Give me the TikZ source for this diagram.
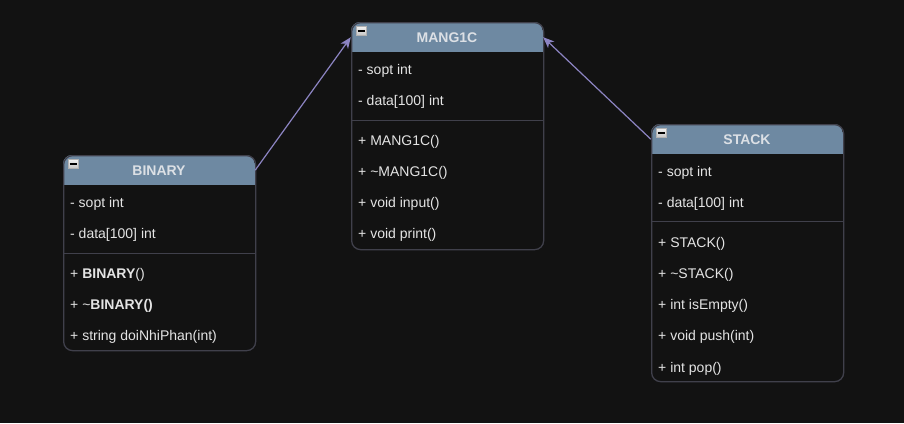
\documentclass[tikz,border=0pt]{standalone}
\usepackage{fontspec}
\setmainfont{Liberation Sans}
\usetikzlibrary{arrows.meta, calc, positioning}
\definecolor{bgDark}{HTML}{121212}
\definecolor{hdrBlue}{HTML}{6E89A2}
\definecolor{edgeGrey}{HTML}{40404B}
\definecolor{txtLight}{HTML}{E4E4E4}
\definecolor{hdrTxt}{HTML}{DCE0E5}
\definecolor{linkLav}{HTML}{8C84C2}
\tikzset{
  % one unit = one pixel of the screen shot, y grows downwards
  every picture/.append style = {x=1pt, y=-1pt},
  classbox/.style  = {draw=edgeGrey, line width=1.3pt, rounded corners=9pt,
                      minimum width=192pt, anchor=north west, inner sep=0pt},
  hdrtitle/.style  = {font=\bfseries\fontsize{14}{17}\selectfont, text=hdrTxt,
                      minimum width=192pt, minimum height=30pt, anchor=north,
                      inner sep=0pt, text height=10pt, text depth=0pt},
  member/.style    = {font=\fontsize{14}{17}\selectfont, text=txtLight, anchor=west,
                      inner sep=0pt, text height=10pt, text depth=0pt},
  sepline/.style   = {edgeGrey, line width=1pt},
  minusicon/.style = {top color=gray!10, bottom color=gray!45, draw=gray!60,
                      line width=0.4pt, minimum width=10pt, minimum height=9pt,
                      inner sep=0pt, anchor=north west,
                      path picture={\draw[black, line width=1.6pt]
                        ([xshift=1.5pt]path picture bounding box.west) --
                        ([xshift=-1.5pt]path picture bounding box.east);}},
  inherit/.style   = {-{Stealth[length=11pt, width=9pt, inset=3pt]}, linkLav, line width=1.2pt},
}
\begin{document}
\begin{tikzpicture}
  % dark canvas
  \fill[bgDark] (0,0) rectangle (904,423);

  % MANG1C, the base class
  \begin{scope}
    \clip[rounded corners=9pt] (351,22) rectangle (543,249);
    \fill[hdrBlue] (351,22) rectangle (543,52);
  \end{scope}
  \node[classbox, minimum height=227pt] (mang-box) at (351,22) {};
  \node[minusicon] (mang-icon) at (356,26) {};
  \node[hdrtitle] (mang) at (447,22) {MANG1C};
  \foreach \txt [count=\i] in {- sopt int, - data[100] int}
    \node[member] (mang-a\i) at (358,{22+47+31.25*(\i-1)}) {\txt};
  \draw[sepline] (351,120) -- (543,120);
  \foreach \txt [count=\i] in {+ MANG1C(), + \textasciitilde MANG1C(), + void input(), + void print()}
    \node[member] (mang-m\i) at (358,{22+118+31.25*(\i-1)}) {\txt};

  % BINARY
  \begin{scope}
    \clip[rounded corners=9pt] (63,155) rectangle (255,350);
    \fill[hdrBlue] (63,155) rectangle (255,185);
  \end{scope}
  \node[classbox, minimum height=195pt] (binary-box) at (63,155) {};
  \node[minusicon] (binary-icon) at (68,159) {};
  \node[hdrtitle] (binary) at (159,155) {BINARY};
  \foreach \txt [count=\i] in {- sopt int, - data[100] int}
    \node[member] (binary-a\i) at (70,{155+47+31.25*(\i-1)}) {\txt};
  \draw[sepline] (63,253) -- (255,253);
  \foreach \txt [count=\i] in {+ \textbf{BINARY}(), + \textasciitilde\textbf{BINARY()}, + string doiNhiPhan(int)}
    \node[member] (binary-m\i) at (70,{155+118+31.25*(\i-1)}) {\txt};

  % STACK
  \begin{scope}
    \clip[rounded corners=9pt] (651,124) rectangle (843,381);
    \fill[hdrBlue] (651,124) rectangle (843,154);
  \end{scope}
  \node[classbox, minimum height=257pt] (stack-box) at (651,124) {};
  \node[minusicon] (stack-icon) at (656,128) {};
  \node[hdrtitle] (stack) at (747,124) {STACK};
  \foreach \txt [count=\i] in {- sopt int, - data[100] int}
    \node[member] (stack-a\i) at (658,{124+47+31.25*(\i-1)}) {\txt};
  \draw[sepline] (651,221) -- (843,221);
  \foreach \txt [count=\i] in {+ STACK(), + \textasciitilde STACK(), + int isEmpty(), + void push(int), + int pop()}
    \node[member] (stack-m\i) at (658,{124+118+31.25*(\i-1)}) {\txt};

  % generalisation links
  \draw[inherit] (binary.east) -- (mang.west);
  \draw[inherit] (stack.west) -- (mang.east);
\end{tikzpicture}
\end{document}
